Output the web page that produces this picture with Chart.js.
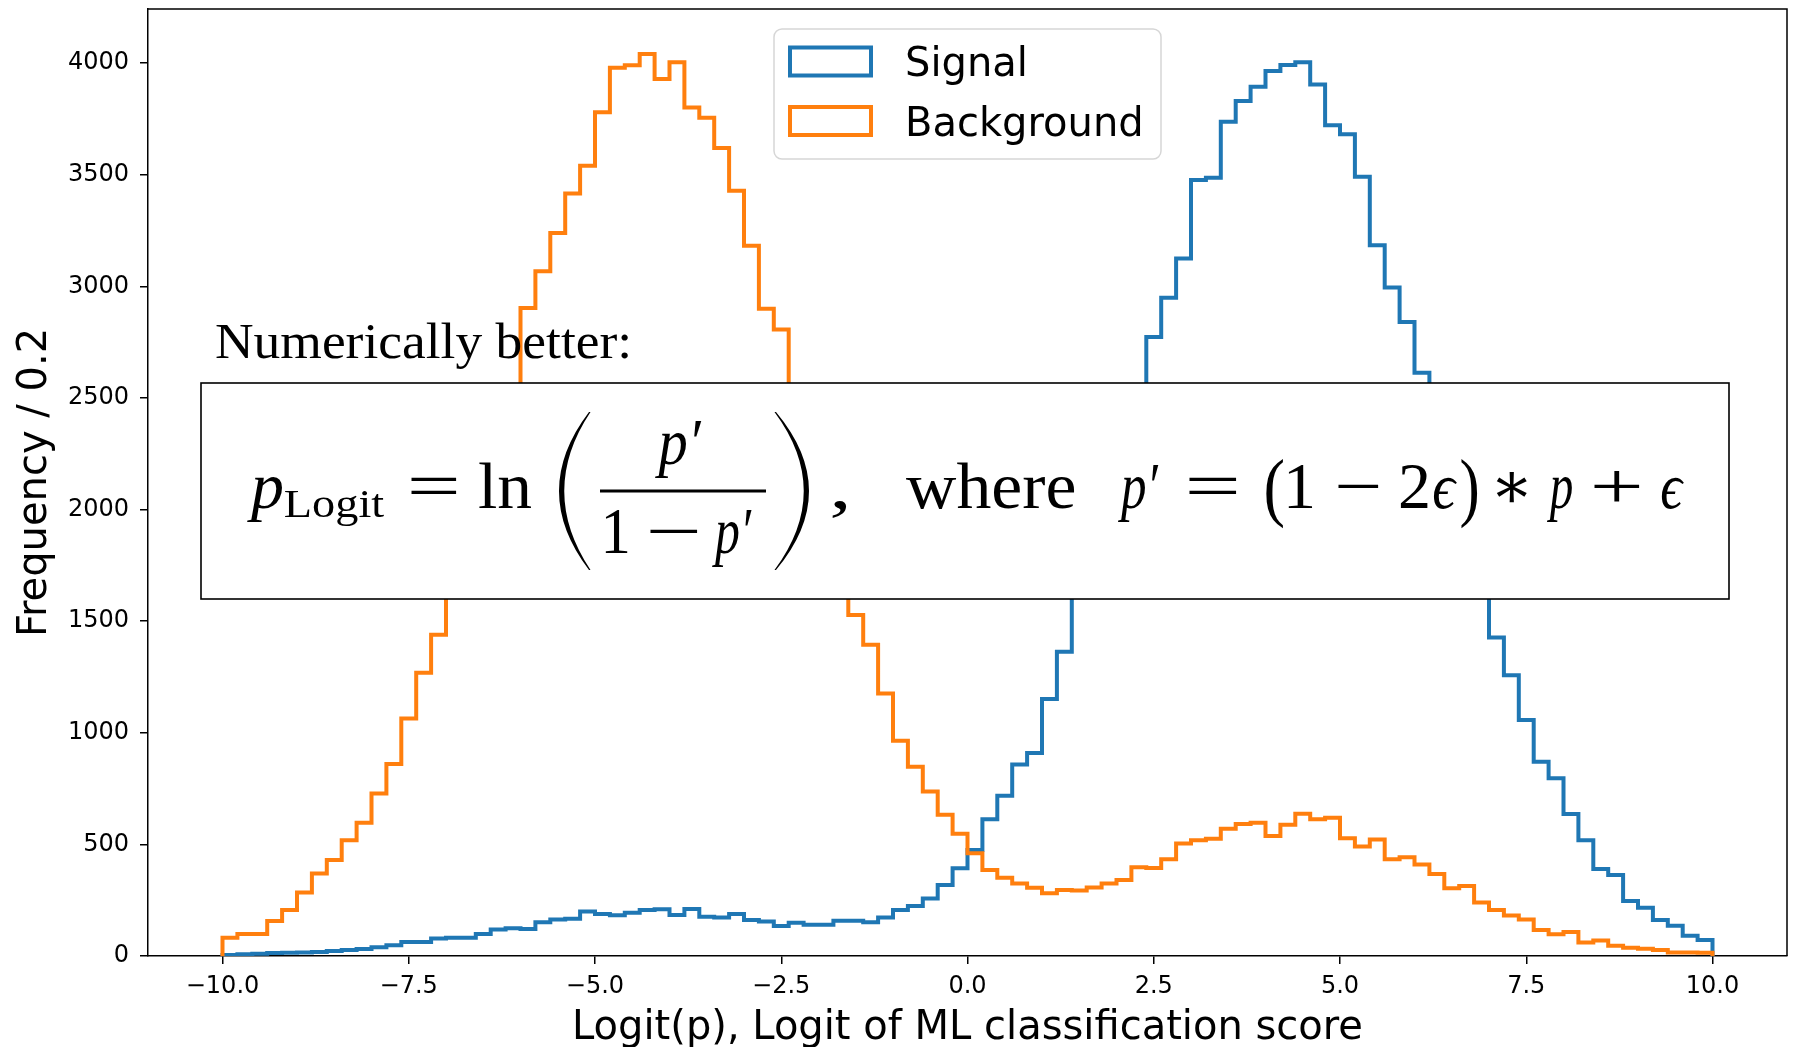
<!DOCTYPE html>
<html>
<head>
<meta charset="utf-8">
<title>Logit histogram</title>
<script src="https://cdn.jsdelivr.net/npm/chart.js@4.4.1/dist/chart.umd.min.js"></script>
<style>
  body { margin: 0; background: #fff; }
  canvas { display: block; }
</style>
</head>
<body>
<canvas id="histChart" width="1793" height="1047"></canvas>
<script>
// histogram bins: 100 bins of width 0.2 between -10 and 10
const binLow = -10;
const binWidth = 0.2;

const seriesNames = ['Signal', 'Background'];
const seriesColors = ['#1f77b4', '#ff7f0e'];

// counts per bin (values under the text box are guesses)
const signalCounts = [
  5, 8, 10, 13, 15, 16, 18, 22, 27, 31,
  39, 48, 63, 63, 78, 82, 82, 98, 119, 124,
  121, 151, 164, 167, 199, 188, 182, 194, 206, 209,
  184, 210, 176, 173, 188, 161, 154, 134, 149, 140,
  140, 158, 158, 151, 172, 206, 224, 258, 318, 393,
  475, 612, 718, 858, 909, 1151, 1363, 1750, 2000, 2250,
  2450, 2550, 2773, 2949, 3124, 3476, 3486, 3737, 3830, 3894,
  3964, 3991, 4004, 3904, 3721, 3681, 3491, 3184, 2995, 2840,
  2613, 2400, 2150, 1900, 1700, 1427, 1258, 1057, 870, 796,
  636, 519, 390, 363, 246, 216, 161, 136, 91, 72
];
const backgroundCounts = [
  82, 98, 98, 157, 206, 285, 370, 430, 519, 597,
  728, 860, 1064, 1269, 1439, 1650, 1900, 2150, 2350, 2520,
  2903, 3067, 3239, 3416, 3540, 3779, 3979, 3990, 4040, 3928,
  4003, 3801, 3755, 3619, 3428, 3182, 2899, 2806, 2450, 2150,
  1900, 1700, 1527, 1394, 1176, 964, 848, 737, 633, 548,
  460, 385, 351, 325, 306, 281, 296, 293, 307, 325,
  340, 397, 394, 433, 504, 519, 525, 570, 591, 597,
  537, 588, 637, 612, 619, 527, 490, 522, 433, 442,
  410, 367, 303, 313, 240, 206, 181, 164, 116, 97,
  107, 61, 69, 46, 37, 33, 27, 16, 16, 15
];

const xTicks = [-10, -7.5, -5, -2.5, 0, 2.5, 5, 7.5, 10];
const yTicks = [0, 500, 1000, 1500, 2000, 2500, 3000, 3500, 4000];

// outline of a step histogram: rise at the first edge, drop at the last one
function stepPoints(counts) {
  const pts = [{ x: binLow, y: 0 }];
  counts.forEach(function (c, i) {
    pts.push({ x: binLow + binWidth * i, y: c });
  });
  pts.push({ x: binLow + binWidth * counts.length, y: 0 });
  return pts;
}

function fmtTick(v) {
  return v.toFixed(1).replace('-', '\u2212');
}

const mathFont = '"Liberation Serif", "DejaVu Serif", serif';

// draw a text so that its ink spans x0..x1
function fitText(ctx, t, font, x0, x1, base) {
  ctx.font = font;
  const m = ctx.measureText(t);
  const ink = m.actualBoundingBoxLeft + m.actualBoundingBoxRight;
  const s = (x1 - x0) / ink;
  ctx.save();
  ctx.translate(x0 + m.actualBoundingBoxLeft * s, base);
  ctx.scale(s, 1);
  ctx.fillText(t, 0, 0);
  ctx.restore();
}

// tall TeX-like parenthesis as a filled crescent
function bigParen(ctx, xTip, yTop, yBot, xBulge, thick, dir) {
  const yMid = (yTop + yBot) / 2;
  ctx.beginPath();
  ctx.moveTo(xTip, yTop);
  ctx.quadraticCurveTo(2 * xBulge - xTip, yMid, xTip, yBot);
  ctx.lineTo(xTip + dir * 1.5, yBot);
  ctx.quadraticCurveTo(2 * (xBulge + dir * thick) - xTip, yMid, xTip + dir * 1.5, yTop);
  ctx.closePath();
  ctx.fill();
}

const overlayPlugin = {
  id: 'overlay',
  afterDatasetsDraw(chart) {
    const ctx = chart.ctx;
    const a = chart.chartArea;
    ctx.save();

    // top and right spines
    ctx.strokeStyle = '#000';
    ctx.lineWidth = 1.5;
    ctx.beginPath();
    ctx.moveTo(a.left, a.top);
    ctx.lineTo(a.right, a.top);
    ctx.lineTo(a.right, a.bottom);
    ctx.stroke();

    // text above the formula
    ctx.fillStyle = '#000';
    ctx.textAlign = 'left';
    ctx.textBaseline = 'alphabetic';
    fitText(ctx, 'Numerically better:', '50px ' + mathFont, 216, 628, 358);

    // formula box
    ctx.fillStyle = '#fff';
    ctx.fillRect(201, 383, 1528, 216);
    ctx.strokeStyle = '#000';
    ctx.lineWidth = 1.6;
    ctx.strokeRect(201, 383, 1528, 216);

    ctx.fillStyle = '#000';
    const it = 'italic 66px ' + mathFont;
    const rm = '66px ' + mathFont;
    const pieces = [
      ['p', it, 247, 282, 508],
      ['Logit', '40px ' + mathFont, 285, 384, 517],
      ['=', rm, 411, 456, 508],
      ['ln', rm, 479, 531, 508],
      ['p\u2032', it, 655, 702, 464],
      ['1', rm, 605, 628, 553],
      ['\u2212', rm, 650, 697, 553],
      ['p\u2032', it, 712, 752, 553],
      [',', rm, 832, 847, 508],
      ['where', rm, 906, 1074, 508],
      ['p\u2032', it, 1118, 1159, 508],
      ['=', rm, 1189, 1236, 508],
      ['(', '76px ' + mathFont, 1266, 1283, 512],
      ['1', rm, 1288, 1313, 508],
      ['\u2212', rm, 1338, 1378, 508],
      ['2', rm, 1400, 1428, 508],
      ['\u03f5', it, 1433, 1457, 508],
      [')', '76px ' + mathFont, 1461, 1477, 512],
      ['\u2217', rm, 1496, 1527, 508],
      ['p', it, 1547, 1572, 508],
      ['+', rm, 1594, 1639, 508],
      ['\u03f5', it, 1661, 1684, 508]
    ];
    pieces.forEach(function (p) {
      fitText(ctx, p[0], p[1], p[2], p[3], p[4]);
    });
    // fraction bar and big parentheses
    ctx.fillRect(600, 489.5, 166, 3);
    bigParen(ctx, 589, 412, 570, 559, 4.5, 1);
    bigParen(ctx, 776, 412, 570, 809, 4.5, -1);

    // legend
    const lx = 774, ly = 29, lw = 387, lh = 130, r = 8;
    ctx.beginPath();
    ctx.moveTo(lx + r, ly);
    ctx.arcTo(lx + lw, ly, lx + lw, ly + lh, r);
    ctx.arcTo(lx + lw, ly + lh, lx, ly + lh, r);
    ctx.arcTo(lx, ly + lh, lx, ly, r);
    ctx.arcTo(lx, ly, lx + lw, ly, r);
    ctx.closePath();
    ctx.fillStyle = 'rgba(255,255,255,0.8)';
    ctx.fill();
    ctx.strokeStyle = '#d6d6d6';
    ctx.lineWidth = 1.5;
    ctx.stroke();

    ctx.font = '40px "DejaVu Sans"';
    chart.data.datasets.forEach(function (ds, i) {
      const y = 47.5 + i * 59.5;
      ctx.strokeStyle = ds.borderColor;
      ctx.lineWidth = 4;
      ctx.strokeRect(790, y, 81, 28);
      ctx.fillStyle = '#000';
      ctx.fillText(ds.label, 905, 76 + i * 59.5);
    });

    ctx.restore();
  }
};

const ctx = document.getElementById('histChart').getContext('2d');

const histChart = new Chart(ctx, {
  type: 'line',
  data: {
    datasets: [
      {
        label: seriesNames[0],
        data: stepPoints(signalCounts),
        borderColor: seriesColors[0],
        backgroundColor: 'rgba(0,0,0,0)',
        borderWidth: 4,
        stepped: true,
        pointRadius: 0,
        fill: false,
        order: 1
      },
      {
        label: seriesNames[1],
        data: stepPoints(backgroundCounts),
        borderColor: seriesColors[1],
        backgroundColor: 'rgba(0,0,0,0)',
        borderWidth: 4,
        stepped: true,
        pointRadius: 0,
        fill: false,
        order: 0
      }
    ]
  },
  options: {
    responsive: false,
    devicePixelRatio: 1,
    animation: false,
    layout: { padding: { left: 0, right: 6, top: 9, bottom: 0 } },
    plugins: {
      legend: { display: false },
      tooltip: { enabled: false }
    },
    scales: {
      x: {
        type: 'linear',
        min: -11,
        max: 11,
        afterBuildTicks: function (s) {
          s.ticks = xTicks.map(function (v) { return { value: v }; });
          s.min = -11;
          s.max = 11;
        },
        afterFit: function (s) {
          s.height = 91;
          s.paddingLeft = 0;
          s.paddingRight = 0;
        },
        ticks: {
          callback: function (v) { return fmtTick(v); },
          font: { family: 'DejaVu Sans', size: 24 },
          color: '#000',
          padding: 8,
          maxRotation: 0,
          autoSkip: false
        },
        grid: { drawOnChartArea: false, tickLength: 8, color: '#000', lineWidth: 1.5 },
        border: { display: true, color: '#000', width: 1.5 },
        title: {
          display: true,
          text: 'Logit(p), Logit of ML classification score',
          font: { family: 'DejaVu Sans', size: 40, lineHeight: 0.9 },
          color: '#000',
          padding: { top: 0, bottom: 0 }
        }
      },
      y: {
        type: 'linear',
        min: 0,
        max: 4242,
        afterBuildTicks: function (s) {
          s.ticks = yTicks.map(function (v) { return { value: v }; });
          s.min = 0;
          s.max = 4242;
        },
        afterFit: function (s) {
          s.width = 148;
          s.paddingTop = 0;
          s.paddingBottom = 0;
        },
        ticks: {
          callback: function (v) { return String(v); },
          font: { family: 'DejaVu Sans', size: 24 },
          color: '#000',
          padding: 11
        },
        grid: { drawOnChartArea: false, tickLength: 8, color: '#000', lineWidth: 1.5 },
        border: { display: true, color: '#000', width: 1.5 },
        title: {
          display: true,
          text: 'Frequency / 0.2',
          font: { family: 'DejaVu Sans', size: 40, lineHeight: 1 },
          color: '#000',
          padding: { top: 16, bottom: 0 }
        }
      }
    }
  },
  plugins: [overlayPlugin]
});
</script>
</body>
</html>
